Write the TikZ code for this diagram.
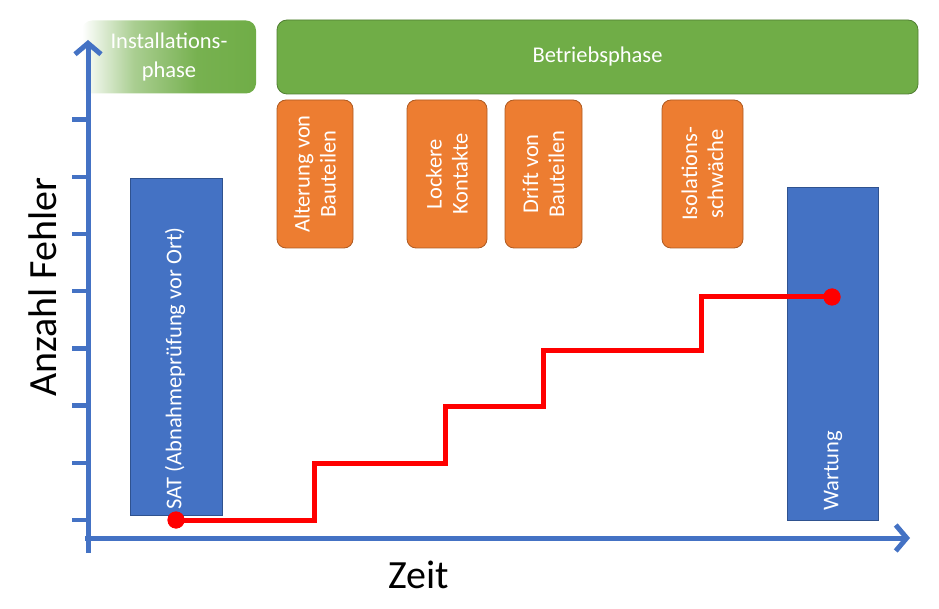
\documentclass[tikz,border=0pt]{standalone}
\usepackage{fontspec}
\setmainfont{Carlito}
\usetikzlibrary{arrows.meta}
\definecolor{grn}{HTML}{70AD47}
\definecolor{grnb}{HTML}{507E32}
\definecolor{org}{HTML}{ED7D31}
\definecolor{orgb}{HTML}{AE5A21}
\definecolor{blu}{HTML}{4472C4}
\definecolor{blub}{HTML}{2F528F}
\definecolor{axc}{HTML}{4472C4}
\pgfdeclarehorizontalshading{instfade}{100bp}{color(0bp)=(white); color(25bp)=(white); color(40bp)=(grn!60); color(58bp)=(grn!95); color(75bp)=(grn); color(100bp)=(grn)}
\tikzset{
  txt/.style={font=\fontsize{22.5}{26}\selectfont, text=white, align=center},
  greenbox/.style={txt, fill=grn, draw=grnb, line width=0.8pt, rounded corners=10pt, inner sep=0pt},
  fadebox/.style={txt, font=\fontsize{22.5}{29}\selectfont, shade, shading=instfade, rounded corners=10pt, inner sep=0pt},
  orangebox/.style={txt, fill=org, draw=orgb, line width=0.8pt, rounded corners=9pt, inner sep=0pt, rotate=90, minimum width=148pt},
  bluebox/.style={fill=blu, draw=blub, line width=0.8pt, inner sep=0pt},
  vtext/.style={txt, rotate=90, anchor=west, inner sep=0pt},
  axis/.style={axc, line width=5pt, -{Straight Barb[length=11pt,width=26pt,line width=5pt]}},
  tick/.style={axc, line width=4.5pt},
  stepline/.style={red, line width=5pt},
  dot/.style={circle, fill=red, inner sep=0pt, minimum size=17pt},
  axlabel/.style={font=\fontsize{40}{44}\selectfont, text=black, inner sep=0pt}
}
\begin{document}
\begin{tikzpicture}[x=1pt,y=-1pt]
\useasboundingbox (0,0) rectangle (939,609);

% phase boxes
\node[fadebox, minimum width=174pt, minimum height=73pt] (inst) at (169,57) {Installations-\\phase};
\node[greenbox, minimum width=641pt, minimum height=74pt] (betrieb) at (597.5,57) {Betriebsphase};

% orange cause boxes
\node[orangebox, minimum height=76pt] (alt) at (315,174) {Alterung von\\Bauteilen};
\node[orangebox, minimum height=80pt] (lock) at (447,174) {Lockere\\Kontakte};
\node[orangebox, minimum height=77pt] (drift) at (543.5,174) {Drift von\\Bauteilen};
\node[orangebox, minimum height=81pt] (iso) at (702.5,174) {Isolations-\\schwäche};

% blue boxes
\node[bluebox, minimum width=92pt, minimum height=337pt] (sat) at (176,346.5) {};
\node[vtext] (sattxt) at (175,510) {SAT (Abnahmeprüfung vor Ort)};
\node[bluebox, minimum width=91pt, minimum height=333pt] (wart) at (832.5,353.5) {};
\node[vtext] (warttxt) at (833,511) {Wartung};

% ticks
\foreach \i in {0,...,7} {
  \coordinate (tl\i) at (72,520-57.2*\i);
  \coordinate (tr\i) at (90,520-57.2*\i);
  \draw[tick] (tl\i) -- (tr\i);
}

% axes
\coordinate (yb) at (88,553);
\coordinate (yt) at (88,40);
\coordinate (xl) at (85,538);
\coordinate (xr) at (910,538);
\draw[axis] (yb) -- (yt);
\draw[axis] (xl) -- (xr);

% step line
\node[dot] (p0) at (176,520) {};
\node[dot] (p1) at (832,297) {};
\coordinate (s1) at (314,463);
\coordinate (s2) at (445,406);
\coordinate (s3) at (543,350);
\coordinate (s4) at (701,297);
\draw[stepline] (p0.center) -| (s1) -| (s2) -| (s3) -| (s4) -- (p1.center);
\node[dot] at (p0) {};
\node[dot] at (p1) {};

% axis labels
\node[axlabel, rotate=90] (ylab) at (43,287) {Anzahl Fehler};
\node[axlabel] (xlab) at (419,575) {Zeit};
\end{tikzpicture}
\end{document}
